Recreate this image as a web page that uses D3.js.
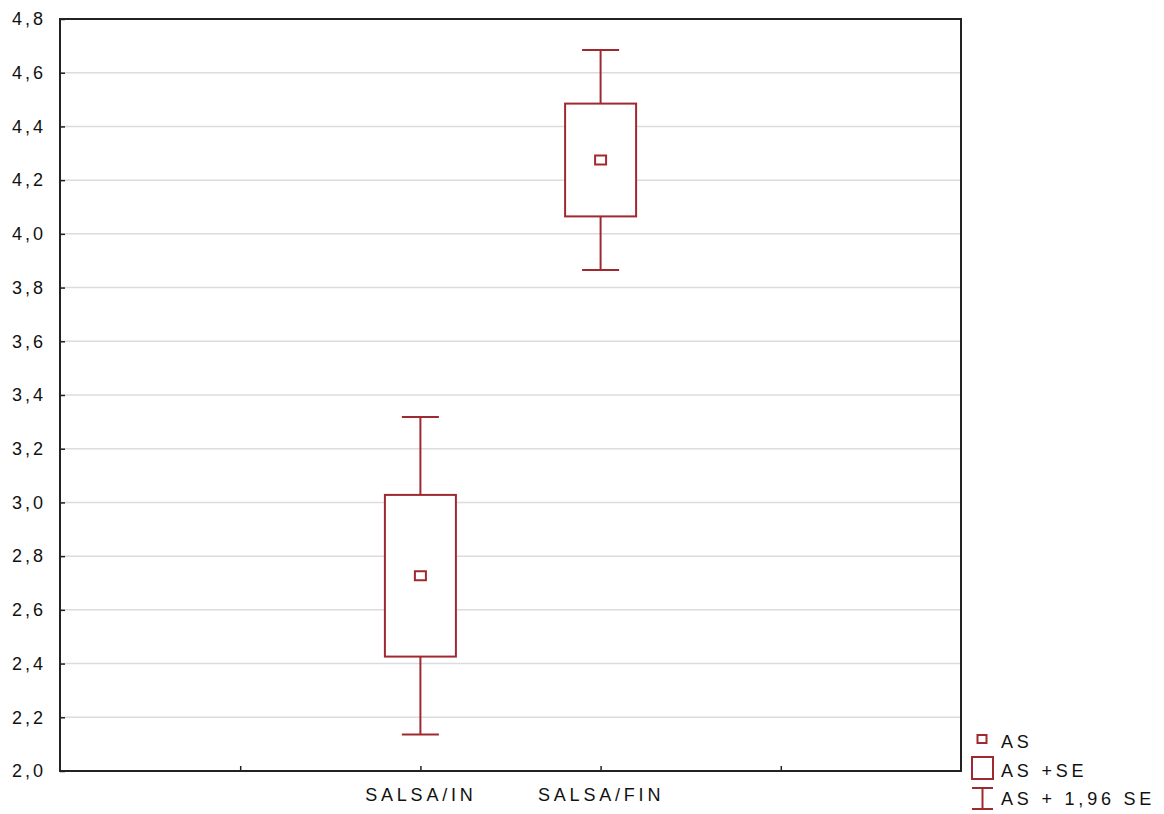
<!DOCTYPE html>
<html>
<head>
<meta charset="utf-8">
<script src="https://cdn.jsdelivr.net/npm/d3@7"></script>
<style>
  body { margin: 0; background: #fff; }
  text { font-family: "Liberation Sans", Arial, sans-serif; fill: #111; }
</style>
</head>
<body>
<div id="chart"></div>
<script>
// Data
var slots = ["", "SALSA/IN", "SALSA/FIN", " "]; // empty slots left/right as in the original
var groups = ["SALSA/IN", "SALSA/FIN"];
var means = [2.727, 4.275];
var se = [0.301, 0.210];
var ci = [0.591, 0.410]; // 1,96 * SE
var yTicks = [2.0, 2.2, 2.4, 2.6, 2.8, 3.0, 3.2, 3.4, 3.6, 3.8, 4.0, 4.2, 4.4, 4.6, 4.8];
var legendLabels = ["AS", "AS +SE", "AS + 1,96 SE"];

var w = 1164, h = 814;
var margin = { top: 19, right: 203, bottom: 43, left: 60 };
var red = "#9e2a2f";

var svg = d3.select("#chart").append("svg")
    .attr("width", w)
    .attr("height", h);

var x = d3.scalePoint().domain(slots).range([margin.left, w - margin.right]).padding(1);
var y = d3.scaleLinear().domain([2.0, 4.8]).range([h - margin.bottom, margin.top]);

// Gridlines
svg.append("g").selectAll("line")
    .data(yTicks.slice(1, -1))
    .enter().append("line")
    .attr("x1", margin.left).attr("x2", w - margin.right)
    .attr("y1", d => y(d)).attr("y2", d => y(d))
    .attr("stroke", "#dcdcdc")
    .attr("stroke-width", 1.5);

// Y axis
var yAxis = svg.append("g")
    .attr("transform", `translate(${margin.left},0)`)
    .call(d3.axisLeft(y).tickValues(yTicks).tickSize(-5).tickPadding(14)
        .tickFormat(d => d3.format(".1f")(d).replace(".", ",")));
yAxis.select(".domain").remove();
yAxis.selectAll("line").attr("stroke", "#222").attr("stroke-width", 1.5);
yAxis.selectAll("text")
    .style("font-size", "18px")
    .style("letter-spacing", "3px")
    .attr("fill", "#111");

// X axis
var xAxis = svg.append("g")
    .attr("transform", `translate(0,${h - margin.bottom})`)
    .call(d3.axisBottom(x).tickSize(-5).tickPadding(17));
xAxis.select(".domain").remove();
xAxis.selectAll("line").attr("stroke", "#222").attr("stroke-width", 1.5);
xAxis.selectAll("text")
    .style("font-size", "18px")
    .style("letter-spacing", "3.8px")
    .attr("fill", "#111");

// Frame
svg.append("rect")
    .attr("x", margin.left).attr("y", margin.top)
    .attr("width", w - margin.right - margin.left)
    .attr("height", h - margin.bottom - margin.top)
    .attr("fill", "none")
    .attr("stroke", "#222")
    .attr("stroke-width", 2);

// Boxes and whiskers
var boxW = 71, capW = 37, markW = 11, markH = 9;
var g = svg.append("g").attr("stroke", red).attr("stroke-width", 2).attr("fill", "none");

groups.forEach(function (grp, i) {
    var cx = x(grp);
    // whisker stems
    g.append("line")
        .attr("x1", cx).attr("x2", cx)
        .attr("y1", y(means[i] + ci[i])).attr("y2", y(means[i] + se[i]));
    g.append("line")
        .attr("x1", cx).attr("x2", cx)
        .attr("y1", y(means[i] - se[i])).attr("y2", y(means[i] - ci[i]));
    // caps
    [means[i] + ci[i], means[i] - ci[i]].forEach(function (v) {
        g.append("line")
            .attr("x1", cx - capW / 2).attr("x2", cx + capW / 2)
            .attr("y1", y(v)).attr("y2", y(v));
    });
    // box
    g.append("rect")
        .attr("x", cx - boxW / 2)
        .attr("y", y(means[i] + se[i]))
        .attr("width", boxW)
        .attr("height", y(means[i] - se[i]) - y(means[i] + se[i]))
        .attr("fill", "#fff");
    // mean marker
    g.append("rect")
        .attr("x", cx - markW / 2)
        .attr("y", y(means[i]) - markH / 2)
        .attr("width", markW)
        .attr("height", markH);
});

// Legend
var lg = svg.append("g").attr("transform", "translate(982,0)");
lg.append("rect").attr("x", -4.5).attr("y", 735).attr("width", 9).attr("height", 8)
    .attr("fill", "none").attr("stroke", red).attr("stroke-width", 2);
lg.append("rect").attr("x", -10).attr("y", 757).attr("width", 21).attr("height", 22)
    .attr("fill", "none").attr("stroke", red).attr("stroke-width", 2);
lg.append("line").attr("x1", -10).attr("x2", 11).attr("y1", 788).attr("y2", 788)
    .attr("stroke", red).attr("stroke-width", 2);
lg.append("line").attr("x1", -10).attr("x2", 11).attr("y1", 809).attr("y2", 809)
    .attr("stroke", red).attr("stroke-width", 2);
lg.append("line").attr("x1", 0.5).attr("x2", 0.5).attr("y1", 788).attr("y2", 809)
    .attr("stroke", red).attr("stroke-width", 2);

lg.selectAll("text.leg")
    .data(legendLabels)
    .enter().append("text")
    .attr("class", "leg")
    .attr("x", 19)
    .attr("y", (d, i) => 748 + i * 28.5)
    .style("font-size", "18px")
    .style("letter-spacing", "3.8px")
    .text(d => d);
</script>
</body>
</html>
